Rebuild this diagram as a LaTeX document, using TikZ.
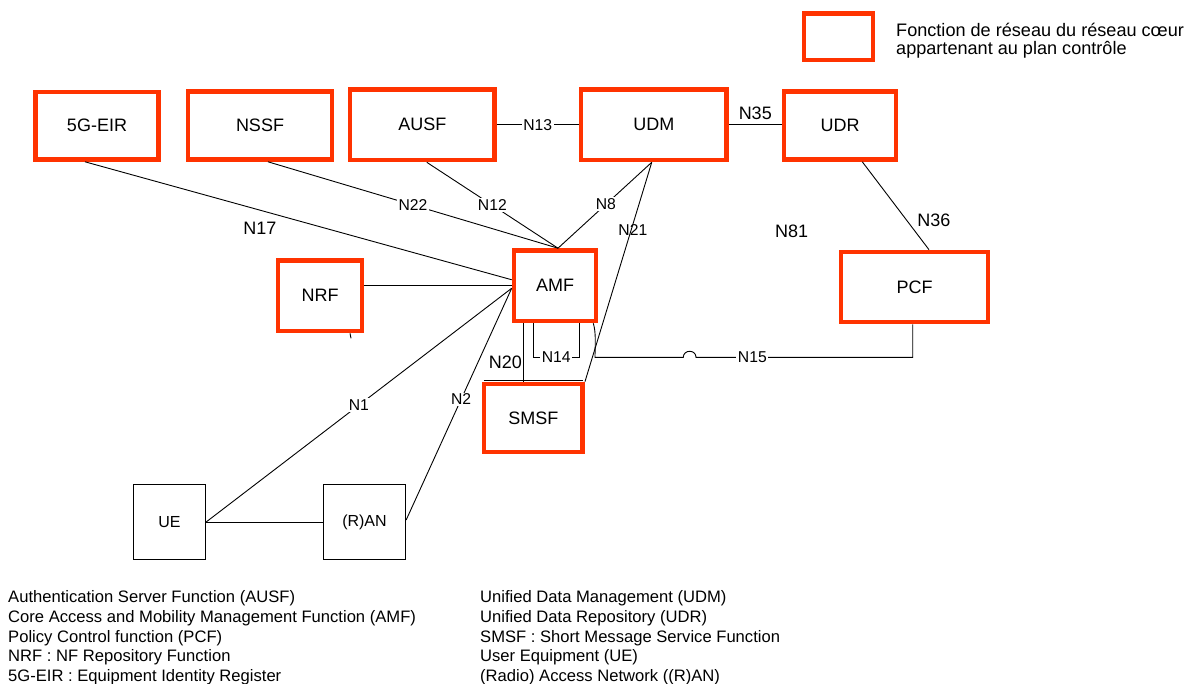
\documentclass[tikz,border=0pt]{standalone}
\usepackage{fontspec}
\setmainfont{Liberation Sans}
\usetikzlibrary{calc}
\definecolor{nfred}{RGB}{255,51,0}
\begin{document}
\begin{tikzpicture}[x=1pt,y=-1pt,
  nf/.style={draw=nfred, line width=4.6pt, inner sep=0pt, font=\fontsize{18}{21}\selectfont},
  plain/.style={draw=black, line width=0.9pt, inner sep=0pt, font=\fontsize{16}{19}\selectfont},
  link/.style={draw=black, line width=0.9pt},
  ifc/.style={fill=white, inner sep=1.5pt, font=\fontsize{15.7}{18}\selectfont},
  ifcbare/.style={inner sep=0pt, font=\fontsize{15.7}{18}\selectfont},
  tag/.style={inner sep=0pt, font=\fontsize{18}{21}\selectfont},
  defs/.style={anchor=north west, align=left, inner sep=0pt, font=\fontsize{16.6}{19.7}\selectfont}]
\useasboundingbox (0,0) rectangle (1198,684);

% control-plane network functions
\node[nf, minimum width=123pt,   minimum height=67.5pt] (eir)  at (97,125.75)   {5G-EIR};
\node[nf, minimum width=144pt,   minimum height=68pt]   (nssf) at (260,125.5)   {NSSF};
\node[nf, minimum width=144.5pt, minimum height=70.5pt] (ausf) at (422.25,124.75) {AUSF};
\node[nf, minimum width=145.5pt, minimum height=70.5pt] (udm)  at (653.75,124.75) {UDM};
\node[nf, minimum width=112pt,   minimum height=68pt]   (udr)  at (840,125.5)   {UDR};
\node[nf, minimum width=147pt,   minimum height=70pt]   (pcf)  at (914.5,287)   {PCF};
\node[nf, minimum width=84pt,    minimum height=70.5pt] (nrf)  at (320,295.75)  {NRF};
\node[nf, minimum width=82pt,    minimum height=70.5pt] (amf)  at (555,285.75)  {AMF};
\node[nf, minimum width=98.7pt,  minimum height=68pt]   (smsf) at (533.3,418)   {SMSF};

% access side
\node[plain, minimum width=72.4pt, minimum height=74.3pt] (ue)  at (169.5,522) {UE};
\node[plain, minimum width=82.4pt, minimum height=74.3pt] (ran) at (364.5,522) {(R)AN};

% key
\node[nf, minimum width=69pt, minimum height=46.5pt] (key) at (838.5,36.75) {};
\node[anchor=west, align=left, inner sep=0pt, font=\fontsize{18.1}{18.4}\selectfont]
  (keytxt) at (896,40.5) {Fonction de réseau du réseau cœur\\appartenant au plan contrôle};

% reference points
\draw[link] ([xshift=-12pt]eir.south) -- ([yshift=6pt]amf.west);
\node[tag] (l17) at (260,228.3) {N17};
\draw[link] ([xshift=8pt]nssf.south) -- node[ifc]{N22} ([xshift=3pt]amf.north);
\draw[link] ([xshift=4.5pt]ausf.south) -- node[ifc]{N12} ([xshift=3pt]amf.north);
\draw[link] ([xshift=-2pt]udm.south) -- node[ifc,pos=0.49]{N8} ([xshift=3pt]amf.north);
\draw[link] ([xshift=-2pt]udm.south) -- node[ifcbare,pos=0.31,xshift=1.8pt]{N21} (smsf.north east);
\draw[link] (ausf.east) -- node[ifc]{N13} (udm.west);
\draw[link] (udm.east) -- node[tag,above=5pt]{N35} (udm.east -| udr.west);
\draw[link] ([xshift=22.3pt]udr.south) -- node[tag,pos=0.67,right=9.8pt]{N36} ([xshift=14.5pt]pcf.north);
\node[tag] (l81) at (791.7,231) {N81};
\draw[link] ([yshift=10.75pt]nrf.east) -- ([yshift=10.75pt]nrf.east -| amf.west);
\draw[link] ([xshift=30pt]nrf.south) -- ++(1,5);
\draw[link] (ue.east) -- node[ifc]{N1} ([yshift=-2.5pt]amf.west);
\draw[link] ([yshift=2pt]ran.east) -- node[ifc,pos=0.52]{N2} ([yshift=-2.5pt]amf.west);
\draw[link] (ue.east) -- (ran.west);
\draw[link] ([xshift=-31.7pt]amf.south) -- node[tag,pos=0.66,left=1pt]{N20} ([xshift=-31.7pt]amf.south |- smsf.north);
\draw[link] ([xshift=2pt,yshift=1pt]smsf.north west) -- ([xshift=-2pt,yshift=1pt]smsf.north east);
\draw[link] ([xshift=-21.7pt]amf.south) |- node[ifc,pos=0.75]{N14} ([xshift=24.3pt,yshift=-34pt]amf.south) -- ([xshift=24.3pt]amf.south);

\coordinate (bend) at (595,357.3);
\coordinate (hopA) at (683.3,357.3);
\coordinate (hopB) at (696,357.3);
\coordinate (pcfdrop) at ([xshift=-1.8pt]pcf.south);
\draw[link] ([xshift=-5pt]amf.south east) .. controls +(3,10) and +(0,-12) .. (bend) -- (hopA)
  .. controls ([yshift=8pt]hopA) and ([yshift=8pt]hopB) .. (hopB)
  -- node[ifc,pos=0.26]{N15} (hopB -| pcfdrop) -- (pcfdrop);

% abbreviations
\node[defs] (defsL) at (8,590.5)
  {Authentication Server Function (AUSF)\\
   Core Access and Mobility Management Function (AMF)\\
   Policy Control function (PCF)\\
   NRF : NF Repository Function\\
   5G-EIR : Equipment Identity Register};
\node[defs] (defsR) at (480,590.5)
  {Unified Data Management (UDM)\\
   Unified Data Repository (UDR)\\
   SMSF : Short Message Service Function\\
   User Equipment (UE)\\
   (Radio) Access Network ((R)AN)};
\end{tikzpicture}
\end{document}
